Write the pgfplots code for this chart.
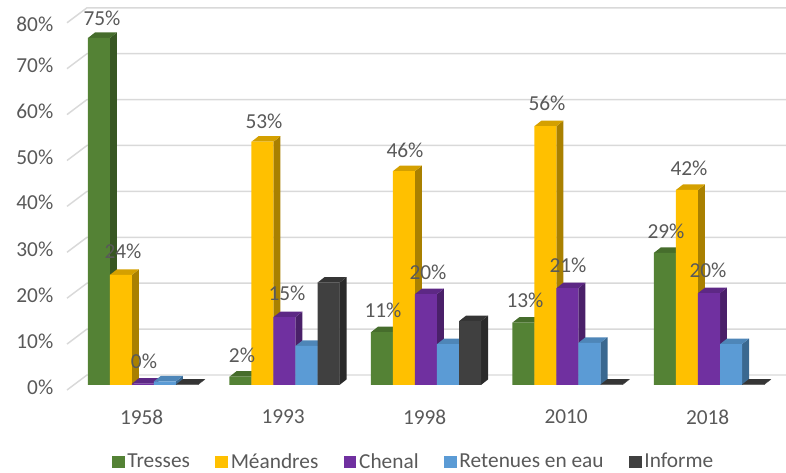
\documentclass[border=0pt]{standalone}
\usepackage{pgfplots}
\pgfplotsset{compat=1.18}
\usepackage{fontspec}
\setmainfont{Carlito}
\definecolor{tx}{HTML}{595959}
\definecolor{gl}{HTML}{D9D9D9}
\definecolor{aF}{HTML}{548235}\definecolor{aS}{HTML}{385723}\definecolor{aT}{HTML}{466D2C}
\definecolor{bF}{HTML}{FFC000}\definecolor{bS}{HTML}{A98000}\definecolor{bT}{HTML}{D4A000}
\definecolor{cF}{HTML}{7030A0}\definecolor{cS}{HTML}{4A2069}\definecolor{cT}{HTML}{5D2885}
\definecolor{dF}{HTML}{5B9BD5}\definecolor{dS}{HTML}{3A6890}\definecolor{dT}{HTML}{4E86B8}
\definecolor{eF}{HTML}{404040}\definecolor{eS}{HTML}{2A2A2A}\definecolor{eT}{HTML}{353535}
\pgfplotsset{sq/.style={legend image code/.code={\fill[##1] (0pt,-4.6pt) rectangle (9.6pt,4.6pt);}}}
\newcommand{\ddx}{0.0495}\newcommand{\ddy}{1.2}\newcommand{\hb}{0.0777}
\newcommand{\facets}[5]{% cat, shift, value, side, top
  \pgfmathsetmacro{\xl}{#1+#2-\hb}\pgfmathsetmacro{\xr}{#1+#2+\hb}
  \pgfmathsetmacro{\xa}{\xr+\ddx}\pgfmathsetmacro{\xb}{\xl+\ddx}\pgfmathsetmacro{\yt}{#3+\ddy}
  \addplot[fill=#4,draw=none,forget plot] coordinates {(\xr,0)(\xa,\ddy)(\xa,\yt)(\xr,#3)} --cycle;
  \addplot[fill=#5,draw=none,forget plot] coordinates {(\xl,#3)(\xr,#3)(\xa,\yt)(\xb,\yt)} --cycle;
}
\newcommand{\serie}[9]{% shift, colour prefix, name, 5 values (last in #9 pass)
  \facets{0}{#1}{#4}{#2S}{#2T}\facets{1}{#1}{#5}{#2S}{#2T}\facets{2}{#1}{#6}{#2S}{#2T}
  \facets{3}{#1}{#7}{#2S}{#2T}\facets{4}{#1}{#8}{#2S}{#2T}
  \addplot[ybar,bar width=0.1555,bar shift=#1,fill=#2F,draw=none,sq] coordinates {(0,#4)(1,#5)(2,#6)(3,#7)(4,#8)};
  \addlegendentry{#3}
}
\newcommand{\gline}[1]{%
  \pgfmathsetmacro{\ya}{#1-1.09}\pgfmathsetmacro{\yb}{#1+2.18}
  \addplot[gl,line width=1.1pt,forget plot] coordinates {(-0.5371,\ya)(-0.3958,\yb)(4.5442,\yb)};
}
\newcommand{\lab}[3]{\node[text=tx,font=\fontsize{16}{19}\selectfont,inner sep=0pt] at (axis cs:{(#1-143)/141.5},{(385-#2)/4.59}) {#3};}
\begin{document}
\begin{tikzpicture}
\useasboundingbox (0,0) rectangle (589.5pt,354.75pt);
\begin{axis}[
  at={(42pt,51pt)},anchor=south west,scale only axis,width=547.5pt,height=303.75pt,
  xmin=-0.6148,xmax=4.5442,ymin=-4.357,ymax=83.878,clip=false,
  axis line style={draw=none},tick style={draw=none},
  xtick={0,1,2,3,4},xticklabels={1958,1993,1998,2010,2018},
  ytick={-0.44,9.5,19.5,29.6,39.7,49.7,59.7,69.7,78.6},
  yticklabels={0\%,10\%,20\%,30\%,40\%,50\%,60\%,70\%,80\%},
  tick label style={text=tx,font=\fontsize{16}{19}\selectfont},
  y tick label style={xshift=1.5pt},
  x tick label style={xshift=-1pt},
  legend style={draw=none,fill=none,font=\fontsize{16}{19}\selectfont,text=tx,inner sep=0pt,
    at={(axis cs:1.915,-16.7)},anchor=center,legend columns=5,
    /tikz/every even column/.append style={column sep=17pt}},
]
\gline{0}\gline{10}\gline{20}\gline{30}\gline{40}\gline{50}\gline{60}\gline{70}\gline{80}
\serie{-0.311}{a}{Tresses}{75.6}{1.8}{11.5}{13.6}{28.8}{}
\serie{-0.1555}{b}{Méandres}{24}{53}{46.6}{56.4}{42.5}{}
\serie{0}{c}{Chenal}{0.3}{14.8}{19.8}{21.1}{20}{}
\serie{0.1555}{d}{Retenues en eau}{0.8}{8.5}{8.9}{9.2}{8.9}{}
\serie{0.311}{e}{Informe}{0.1}{22.3}{13.9}{0.1}{0.1}{}
\lab{102}{18}{75\%}\lab{123}{251}{24\%}\lab{144}{361}{0\%}
\lab{264}{121}{53\%}\lab{242}{355}{2\%}\lab{287}{293}{15\%}
\lab{405}{150}{46\%}\lab{383}{310}{11\%}\lab{428}{272}{20\%}
\lab{547}{103}{56\%}\lab{525}{300}{13\%}\lab{568}{265}{21\%}
\lab{689}{168}{42\%}\lab{666}{231}{29\%}\lab{708}{270}{20\%}
\end{axis}
\end{tikzpicture}
\end{document}
